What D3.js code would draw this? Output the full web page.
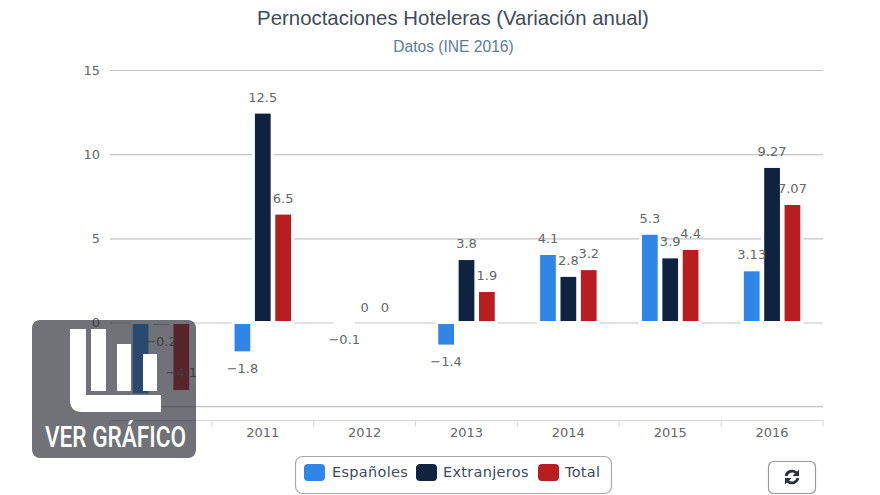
<!DOCTYPE html>
<html lang="es">
<head>
<meta charset="utf-8">
<script src="https://cdn.jsdelivr.net/npm/d3@7"></script>
<style>
html,body{margin:0;padding:0;background:#fff;overflow:hidden}
svg{display:block}
text{font-family:"DejaVu Sans",sans-serif}
</style>
</head>
<body>
<svg id="c" width="880" height="495"></svg>
<script>
const categories = ["2010","2011","2012","2013","2014","2015","2016"];
const seriesNames = ["Españoles","Extranjeros","Total"];
const seriesColors = ["#3086e6","#0f2340","#b81e20"];
const espanoles = [-4.3,-1.8,-0.1,-1.4,4.1,5.3,3.13];
const extranjeros = [-0.2,12.5,0,3.8,2.8,3.9,9.27];
const total = [-4.1,6.5,0,1.9,3.2,4.4,7.07];
const yTicks = [15,10,5,0,-5];
const title = "Pernoctaciones Hoteleras (Variación anual)";
const subtitle = "Datos (INE 2016)";
const badgeText = "VER GRÁFICO";

const values = [espanoles, extranjeros, total];
const svg = d3.select("#c");
const fmt = v => String(v).replace("-", "−");

const y = d3.scaleLinear().domain([-5,15]).range([406.7,70]);
const x = d3.scaleBand().domain(categories).range([110,823]);
const inner = d3.scaleBand().domain(d3.range(3))
  .range([x.bandwidth()*0.2, x.bandwidth()*0.8]).paddingInner(0.08).paddingOuter(0.04);

svg.append("text").attr("x",453).attr("y",25).attr("text-anchor","middle")
  .style("font-family","'Liberation Sans',sans-serif").style("font-size","20.4px").attr("fill","#414b5a").text(title);
svg.append("text").attr("x",453.5).attr("y",51.5).attr("text-anchor","middle")
  .style("font-family","'Liberation Sans',sans-serif").style("font-size","15.6px").attr("fill","#5d7b9c").text(subtitle);

// y grid + labels
const yg = svg.append("g").attr("transform","translate(110,0)")
  .call(d3.axisLeft(y).tickValues(yTicks.filter(t=>t!==-5)).tickSize(-713).tickPadding(10).tickFormat(d=>fmt(d)));
yg.select(".domain").remove();
yg.selectAll(".tick line").attr("stroke","#c4c4c4").attr("stroke-width",1.2);
yg.selectAll(".tick text").attr("fill","#666").style("font-size","13px").style("font-family","'DejaVu Sans',sans-serif");
// the -5 gridline has its label hidden behind the badge in the reference
svg.append("line").attr("x1",110).attr("x2",823).attr("y1",y(-5)).attr("y2",y(-5)).attr("stroke","#c4c4c4").attr("stroke-width",1.2);

// x axis
const xLine = 420;
const xg = svg.append("g").attr("transform",`translate(0,${xLine})`)
  .call(d3.axisBottom(x).tickSize(0).tickPadding(8).tickFormat(d=>d==="2010"?"":d));
xg.select(".domain").attr("stroke","#d4d7dc").attr("stroke-width",1.2);
xg.selectAll(".tick text").attr("fill","#666").style("font-size","13px").style("font-family","'DejaVu Sans',sans-serif");
xg.selectAll("line.sep").data(categories.concat("end")).join("line").attr("class","sep")
  .attr("x1",(d,i)=>i<7?x(d):x.range()[1]).attr("x2",(d,i)=>i<7?x(d):x.range()[1])
  .attr("y1",0).attr("y2",7).attr("stroke","#d4d7dc");

// bars
values.forEach((vals,s)=>{
  svg.append("g").selectAll("rect").data(vals.map((v,i)=>({v,c:categories[i]})).filter(d=>d.v!==0)).join("rect")
    .attr("x",d=>x(d.c)+inner(s))
    .attr("width",inner.bandwidth())
    .attr("y",d=>Math.min(y(d.v),y(0)))
    .attr("height",d=>Math.abs(y(d.v)-y(0)))
    .attr("fill",seriesColors[s]).attr("stroke","#fff").attr("stroke-width",3);
});

// data labels
values.forEach((vals,s)=>{
  svg.append("g").selectAll("text")
    .data(vals.map((v,i)=>({v,c:categories[i]})).filter(d=>!(s===0 && d.c==="2010"))).join("text")
    .attr("x",d=>x(d.c)+inner(s)+inner.bandwidth()/2)
    .attr("y",d=>d.v>=0 ? y(d.v)-10.5 : (d.v<-3.5 ? y(d.v)-15 : y(d.v)+20))
    .attr("text-anchor","middle").attr("fill","#666").style("font-size","13px")
    .text(d=>fmt(d.v));
});

// legend
const lg = svg.append("g");
lg.append("rect").attr("x",295.5).attr("y",456.5).attr("width",316).attr("height",37).attr("rx",7)
  .attr("fill","#fff").attr("stroke","#a9a9a9").attr("stroke-width",1.2);
const swX = [304,416,538], txX = [332,443,565];
seriesNames.forEach((n,i)=>{
  lg.append("rect").attr("x",swX[i]).attr("y",464).attr("width",21).attr("height",17).attr("rx",4).attr("fill",seriesColors[i]);
  lg.append("text").attr("x",txX[i]).attr("y",477).attr("fill","#3f4a5a").style("font-size","14.5px").style("letter-spacing","0.3px").text(n);
});

// refresh button
const b = svg.append("g");
b.append("rect").attr("x",768.5).attr("y",461.5).attr("width",47).attr("height",32).attr("rx",5)
  .attr("fill","#fff").attr("stroke","#9a9a9a").attr("stroke-width",1.2);
const ic = b.append("g").attr("transform","translate(792,477)");
ic.append("path").attr("d","M-5.9,-1A6,6 0 0 1 4.2,-4.2").attr("fill","none").attr("stroke","#2b2f36").attr("stroke-width",2.8);
ic.append("path").attr("d","M7,-7.5L7,-1L0.5,-1Z").attr("fill","#2b2f36");
ic.append("path").attr("d","M5.9,1A6,6 0 0 1 -4.2,4.2").attr("fill","none").attr("stroke","#2b2f36").attr("stroke-width",2.8);
ic.append("path").attr("d","M-7,7.5L-7,1L-0.5,1Z").attr("fill","#2b2f36");

// overlay badge
const o = svg.append("g");
o.append("rect").attr("x",32).attr("y",320).attr("width",164).attr("height",138).attr("rx",8)
  .attr("fill","rgb(38,41,50)").attr("fill-opacity",0.66);
o.append("path").attr("d","M70,329H86V395H161V412H82Q70,412 70,400Z").attr("fill","#fff");
[[91,106,329],[117,131,344],[143,157,354]].forEach(([a,c,t])=>{
  o.append("rect").attr("x",a).attr("y",t).attr("width",c-a).attr("height",391-t).attr("fill","#fff");
});
o.append("text").attr("x",45).attr("y",447).attr("textLength",141).attr("lengthAdjust","spacingAndGlyphs")
  .style("font-family","Roboto,'Liberation Sans',sans-serif").style("font-size","30px").style("font-weight","500")
  .attr("fill","#fff").text(badgeText);
</script>
</body>
</html>
